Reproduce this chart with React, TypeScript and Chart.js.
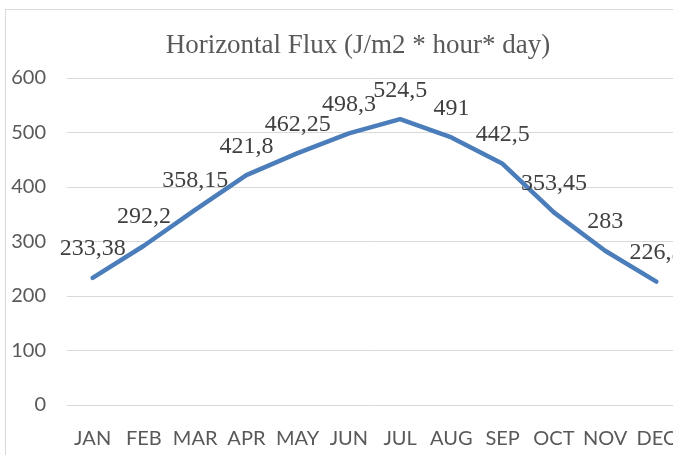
import React, { useEffect, useRef } from "react";
import { Chart, registerables } from "chart.js";

Chart.register(...registerables);

const months = ["JAN", "FEB", "MAR", "APR", "MAY", "JUN", "JUL", "AUG", "SEP", "OCT", "NOV", "DEC"];
const flux = [233.38, 292.2, 358.15, 421.8, 462.25, 498.3, 524.5, 491, 442.5, 353.45, 283, 226.3];
const yMin = 0;
const yMax = 600;
const yStep = 100;
const titleText = "Horizontal Flux (J/m2 * hour* day)";

const fmt = (v: number) => String(v).replace(".", ",");

const pointLabels = {
  id: "pointLabels",
  afterDatasetsDraw(chart: any) {
    const meta = chart.getDatasetMeta(0);
    const ctx = chart.ctx;
    ctx.save();
    ctx.font = '24px "Liberation Serif"';
    ctx.fillStyle = "#404040";
    ctx.textAlign = "center";
    ctx.textBaseline = "alphabetic";
    meta.data.forEach((pt: any, i: number) => {
      ctx.fillText(fmt(flux[i]), pt.x, pt.y - 22.5);
    });
    ctx.restore();
  },
};

export default function App() {
  const ref = useRef<HTMLCanvasElement | null>(null);

  useEffect(() => {
    if (!ref.current) return;
    const chart = new Chart(ref.current, {
      type: "line",
      data: {
        labels: months,
        datasets: [
          {
            data: flux,
            borderColor: "#4a7dba",
            borderWidth: 4.5,
            borderCapStyle: "round",
            borderJoinStyle: "round",
            pointRadius: 0,
            tension: 0,
            fill: false,
          },
        ],
      },
      options: {
        responsive: false,
        animation: false,
        devicePixelRatio: 1,
        layout: { padding: { left: 0, right: 18, top: 78, bottom: 0 } },
        plugins: {
          legend: { display: false },
          tooltip: { enabled: false },
          title: { display: false },
        },
        scales: {
          x: {
            offset: true,
            grid: { display: false },
            border: { display: false },
            ticks: {
              color: "#595959",
              font: { family: "Lato", size: 20 },
              padding: 14,
              maxRotation: 0,
              autoSkip: false,
            },
            afterFit: (s: any) => {
              s.height = 50;
            },
          },
          y: {
            min: yMin,
            max: yMax,
            grid: { color: "#d9d9d9", lineWidth: 1, drawTicks: false },
            border: { display: false },
            ticks: {
              stepSize: yStep,
              color: "#595959",
              font: { family: "Lato", size: 20 },
              padding: 21,
            },
            afterFit: (s: any) => {
              s.width = 67;
            },
          },
        },
      },
      plugins: [pointLabels],
    });
    return () => chart.destroy();
  }, []);

  return (
    <div
      style={{
        position: "fixed",
        left: 0,
        top: 0,
        width: 673,
        height: 455,
        overflow: "hidden",
        background: "#ffffff",
      }}
    >
      <div
        style={{
          position: "absolute",
          left: 5,
          top: 9,
          width: 900,
          height: 700,
          border: "1px solid #d9d9d9",
          boxSizing: "border-box",
        }}
      />
      <canvas
        ref={ref}
        width={700}
        height={455}
        style={{ position: "absolute", left: 0, top: 0, width: 700, height: 455, display: "block" }}
      />
      <div
        style={{
          position: "absolute",
          left: 158,
          width: 400,
          top: 28,
          textAlign: "center",
          fontFamily: '"Liberation Serif"',
          fontSize: 27,
          lineHeight: "32px",
          color: "#595959",
          whiteSpace: "nowrap",
        }}
      >
        {titleText}
      </div>
    </div>
  );
}
